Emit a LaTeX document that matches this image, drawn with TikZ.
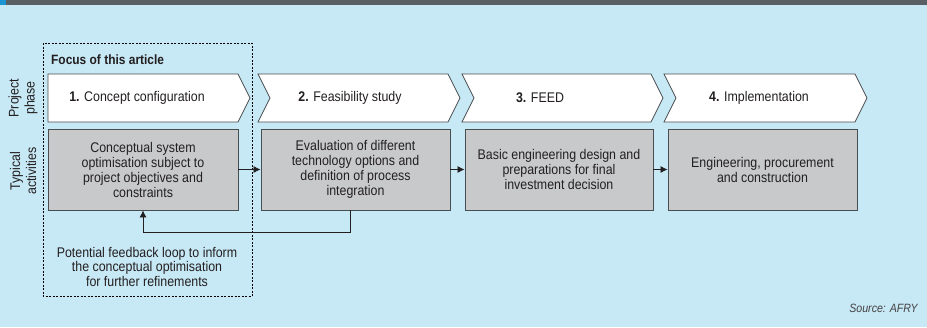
\documentclass[tikz,border=0pt]{standalone}
\usepackage{fontspec}
\setmainfont{Liberation Sans}[FakeStretch=0.885]
\usetikzlibrary{arrows.meta}
\definecolor{bg}{HTML}{C7E8F5}
\definecolor{topbar}{HTML}{5A5F63}
\definecolor{accent}{HTML}{1B95D3}
\definecolor{boxgray}{HTML}{C7C9CA}
\definecolor{boxline}{HTML}{4A4D50}
\definecolor{txt}{HTML}{231F20}
\begin{document}
\begin{tikzpicture}[x=1pt,y=-1pt,
  chev/.style={fill=white,draw=boxline,line width=0.8pt,line join=miter},
  chevtext/.style={font=\fontsize{14}{15}\selectfont,text=txt,inner sep=0pt},
  actbox/.style={fill=boxgray,draw=boxline,line width=0.9pt,minimum height=81pt,align=center,
     font=\fontsize{14}{15}\selectfont,text=txt,inner sep=0pt},
  arr/.style={draw=txt,line width=0.8pt,-{Latex[length=7pt,width=7pt]}},
  sidelab/.style={rotate=90,align=center,font=\fontsize{14}{16}\selectfont,text=txt,inner sep=0pt},
  plain/.style={align=center,font=\fontsize{14}{14.5}\selectfont,text=txt,inner sep=0pt}]
\fill[bg] (0,0) rectangle (927,327);
\useasboundingbox (0,0) rectangle (927,327);
\fill[topbar] (0,0) rectangle (927,5);
\fill[accent] (0,0) rectangle (6,5);

% focus box
\draw[black,line width=0.8pt,dash pattern=on 2pt off 1.5pt] (43,43) rectangle (252,296);
\node[anchor=west,font=\bfseries\fontsize{13.5}{14}\selectfont,text=txt,inner sep=0pt] (focus) at (51,60) {Focus of this article};

% side labels
\node[sidelab] (lp) at (23,98) {Project\\phase};
\node[sidelab] (la) at (23,171) {Typical\\activities};

% chevrons
\draw[chev] (48,74) -- (238,74) -- (250,98) -- (238,122) -- (48,122) -- cycle;
\draw[chev] (258,74) -- (448,74) -- (460,98) -- (448,122) -- (258,122) -- (270,98) -- cycle;
\draw[chev] (462,74) -- (651,74) -- (663,98) -- (651,122) -- (462,122) -- (474,98) -- cycle;
\draw[chev] (664,74) -- (855,74) -- (867,98) -- (855,122) -- (664,122) -- (676,98) -- cycle;
\node[chevtext] (p1) at (137,98) {\textbf{1.} Concept configuration};
\node[chevtext] (p2) at (350,98) {\textbf{2.} Feasibility study};
\node[chevtext] (p3) at (540,98) {\textbf{3.} FEED};
\node[chevtext] (p4) at (759,98) {\textbf{4.} Implementation};

% activity boxes
\node[actbox,minimum width=190pt] (a1) at (143,169.5) {Conceptual system\\optimisation subject to\\project objectives and\\constraints};
\node[actbox,minimum width=189pt] (a2) at (355.5,169.5) {Evaluation of different\\technology options and\\definition of process\\integration};
\node[actbox,minimum width=188pt] (a3) at (559,169.5) {Basic engineering design and\\preparations for final\\investment decision};
\node[actbox,minimum width=189pt] (a4) at (762.5,169.5) {Engineering, procurement\\and construction};

\draw[arr] (a1) -- (a2);
\draw[arr] (a2) -- (a3);
\draw[arr] (a3) -- (a4);
\draw[arr] ([xshift=-5.5pt]a2.south) -- ++(0,22) -| (a1.south);

\node[plain] (fb) at (147,266.5) {Potential feedback loop to inform\\the conceptual optimisation\\for further refinements};

\node[anchor=east,font=\itshape\fontsize{12}{14}\selectfont,text=txt!85,inner sep=0pt] (src) at (918,308) {Source: AFRY};
\end{tikzpicture}
\end{document}
